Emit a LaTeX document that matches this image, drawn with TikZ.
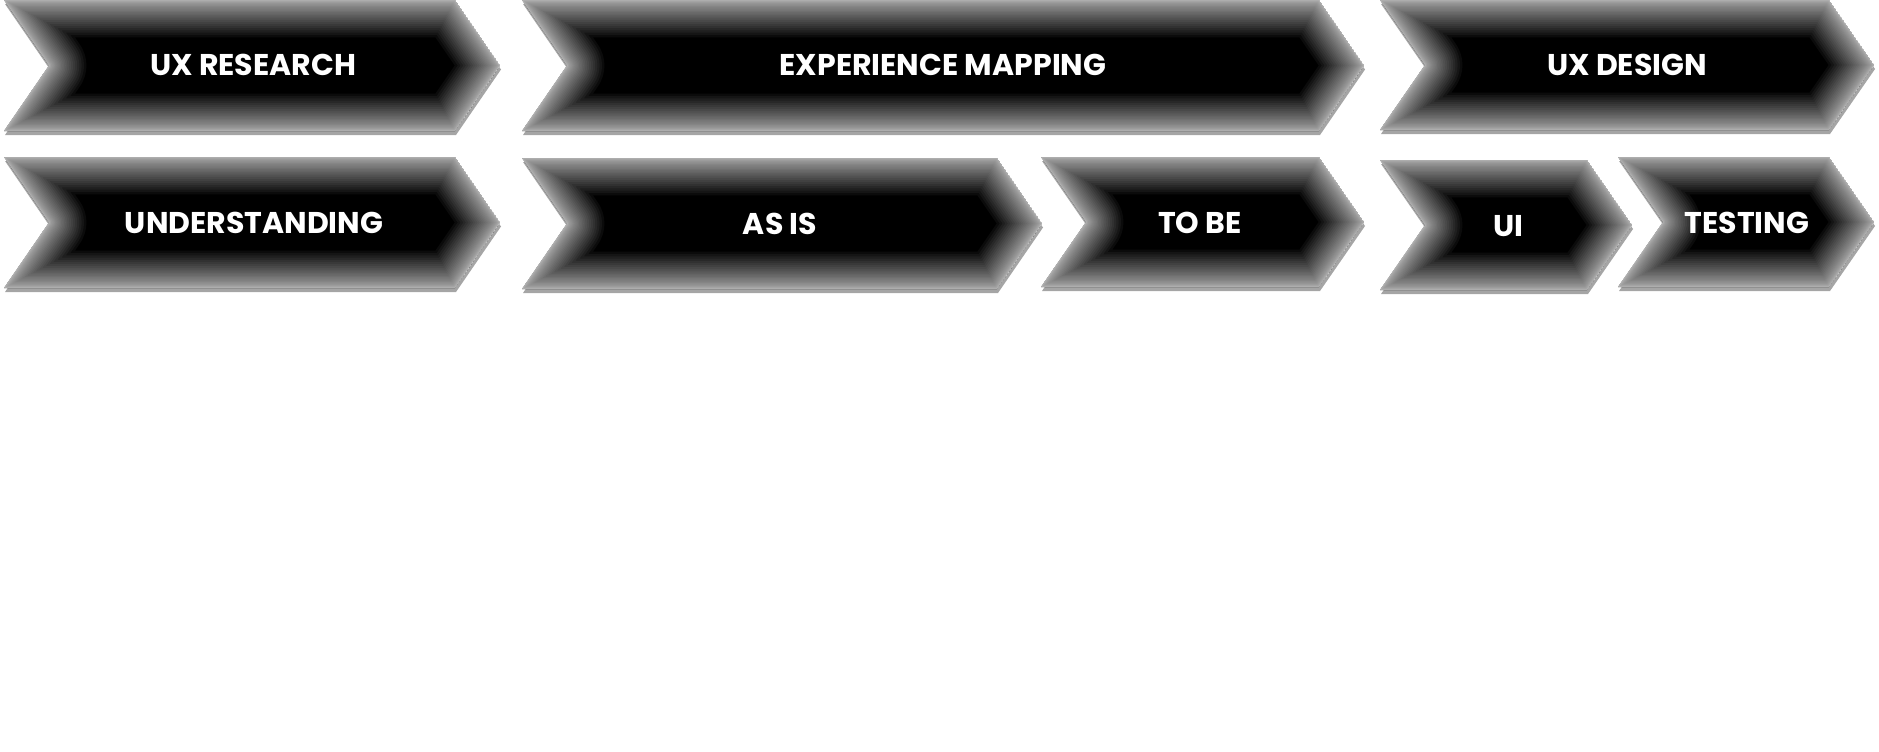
\documentclass[tikz,border=0pt]{standalone}
\usepackage{fontspec}
\newfontfamily\popfont{Poppins}
\tikzset{
  lbl/.style={text=white, font=\popfont\bfseries\fontsize{30}{35}\selectfont, inner sep=0pt, anchor=center},
  glowline/.style={draw=white, opacity=0.045, line join=round},
  shadowfill/.style={fill=black!50, opacity=0.7}
}
\newcommand\chevpath[4]{(#1,#3) -- (#2-45,#3) -- (#2,{(#3+#4)/2}) -- (#2-45,#4) -- (#1,#4) -- (#1+45,{(#3+#4)/2}) -- cycle}
% #1 name, #2 x-left, #3 x-tip, #4 y-top, #5 y-bottom, #6 text x, #7 text y, #8 text
\newcommand\chev[8]{%
  \begin{scope}[yshift=-4pt,xshift=1pt]
    \path[shadowfill] \chevpath{#2}{#3}{#4}{#5};
  \end{scope}
  \begin{scope}
    \clip \chevpath{#2}{#3}{#4}{#5};
    \fill[black] \chevpath{#2}{#3}{#4}{#5};
    \foreach \i in {1,...,30}{
      \pgfmathsetmacro\glw{74*(\i/30)*(\i/30)+0.6}
      \path[glowline, line width=\glw pt] \chevpath{#2}{#3}{#4}{#5};
    }
  \end{scope}
  \node[lbl] (#1) at (#6,#7) {#8};
}
\begin{document}
\begin{tikzpicture}[x=1pt,y=-1pt]
\useasboundingbox[fill=white] (0,0) rectangle (1879,752);
\chev{uxr}{4}{500}{0}{131}{253}{65}{UX RESEARCH}
\chev{exm}{522}{1364}{0}{131}{943}{65}{EXPERIENCE MAPPING}
\chev{uxd}{1380}{1874}{0}{130}{1627}{65}{UX DESIGN}
\chev{und}{4}{500}{157}{288}{254}{223}{UNDERSTANDING}
\chev{asis}{522}{1042}{158}{289}{780}{224}{AS IS}
\chev{tobe}{1041}{1364}{157}{287}{1200}{223}{TO BE}
\chev{ui}{1380}{1632}{160}{290}{1508}{226}{UI}
\chev{test}{1618}{1874}{157}{287}{1747}{223}{TESTING}
\end{tikzpicture}
\end{document}
